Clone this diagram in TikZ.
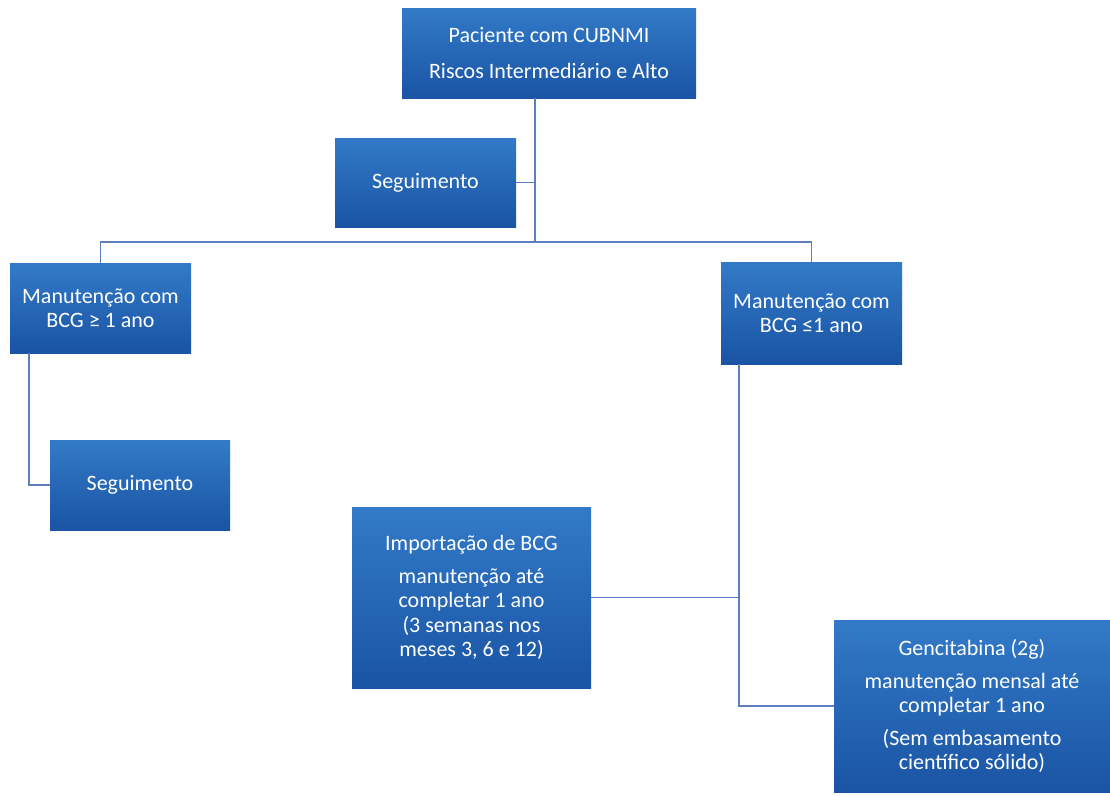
\documentclass[tikz,border=0pt]{standalone}
\usepackage{fontspec}
\setmainfont{Carlito}
\usepackage{xcolor}
\usepackage{tikz}
\definecolor{boxtop}{RGB}{50,122,200}
\definecolor{boxbot}{RGB}{26,84,164}
\definecolor{linkc}{RGB}{94,124,192}

\begin{document}
\begin{tikzpicture}
  [
  x=1pt, y=-1pt,
  box/.style={shape=rectangle, top color=boxtop, bottom color=boxbot, text=white, align=center, inner sep=2pt, font=\fontsize{22}{24.5}\selectfont},
  link/.style={draw=linkc, line width=1.8pt},
  ]
  \useasboundingbox (0,0) rectangle (1110,795);
  % caixas
  \node[box, minimum width=294pt, minimum height=90pt] (paciente) at (549,53) {Paciente com CUBNMI\\[12pt]Riscos Intermediário e Alto};
  \node[box, minimum width=181pt, minimum height=89pt] (seg1) at (425.5,182.5) {Seguimento};
  \node[box, minimum width=181pt, minimum height=90pt] (manL) at (100.5,308) {Manutenção com\\BCG ≥ 1 ano};
  \node[box, minimum width=181pt, minimum height=102pt] (manR) at (811.5,313) {Manutenção com\\BCG ≤1 ano};
  \node[box, minimum width=180pt, minimum height=90pt] (seg2) at (140,485) {Seguimento};
  \node[box, minimum width=239pt, minimum height=181pt] (imp) at (471.5,597.5) {Importação de BCG\\[8pt]manutenção até\\completar 1 ano\\(3 semanas nos\\meses 3, 6 e 12)};
  \node[box, minimum width=276pt, minimum height=172pt] (gen) at (972,706) {Gencitabina (2g)\\[8pt]manutenção mensal até\\completar 1 ano\\[8pt](Sem embasamento\\científico sólido)};
  %
  \coordinate (hub) at (535,242);
  \coordinate (spine) at (739,0);
  % ligacoes
  \draw[link] (paciente.south -| hub) -- (hub);
  \draw[link] (seg1.east) -- (seg1.east -| hub);
  \draw[link] (manL.north) |- (hub) -| (manR.north);
  \draw[link] ([xshift=19pt]manL.south west) |- (seg2.west);
  \draw[link] (manR.south -| spine) |- (gen.west);
  \draw[link] (imp.east) -- (imp.east -| spine);
\end{tikzpicture}
\end{document}
